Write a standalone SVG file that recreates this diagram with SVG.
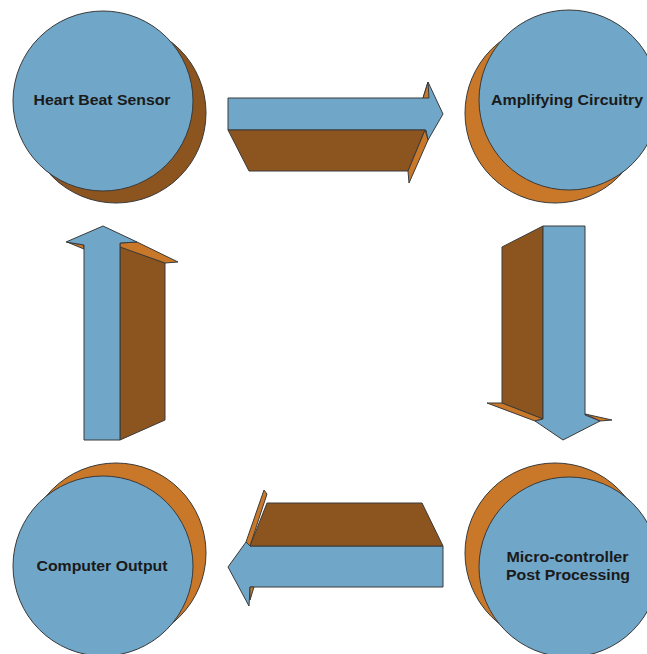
<svg xmlns="http://www.w3.org/2000/svg" width="647" height="654" viewBox="0 0 647 654">
<style>
.b{fill:#70a6c7;stroke:#3a3a3a;stroke-width:1;stroke-linejoin:round}
.d{fill:#8c541e;stroke:#3a3a3a;stroke-width:1;stroke-linejoin:round}
.o{fill:#c87828;stroke:#3a3a3a;stroke-width:1;stroke-linejoin:round}
.t{font-family:"Liberation Sans",Arial,sans-serif;font-weight:bold;font-size:14.5px;fill:#1a1a1a;text-anchor:middle}
</style>
<rect width="647" height="654" fill="#ffffff"/>
<g id="connectors">
  <g id="arrow-right">
    <polygon class="b" points="228,98 423,98 428,82 443,114 428,140 426,130 228,130"/>
    <polygon class="o" points="423,98 428,82 429,98"/>
    <polygon class="d" points="228,130 425,130 408,171 249,171"/>
    <polygon class="o" points="425,130 428,140 409,183 408,171"/>
  </g>
  <g id="arrow-down">
    <polygon class="d" points="502,247 543,226 543,419 502,403"/>
    <polygon class="o" points="487,403 502,403 543,419 535,421"/>
    <polygon class="o" points="585,414 612,420 600,421"/>
    <polygon class="b" points="543,226 585,226 585,415 600,421 563,440 535,421 543,419"/>
  </g>
  <g id="arrow-left">
    <polygon class="b" points="443,546 250,546 246,542 228,567 249,606 250,587 443,587"/>
    <polygon class="o" points="250,587 254,587 250,600"/>
    <polygon class="o" points="264,490 267,494 250,546 246,542"/>
    <polygon class="d" points="267,503 422,503 443,546 250,546"/>
  </g>
  <g id="arrow-up">
    <polygon class="d" points="120,246 165,263 165,420 120,440"/>
    <polygon class="o" points="120,243 137,242 178,262 165,263 120,247"/>
    <polygon class="o" points="67,242 84,245 84,249"/>
    <polygon class="b" points="84,440 84,245 66,242 103,226 137,242 120,243 120,440"/>
  </g>
</g>
<g id="heart-beat-sensor">
  <circle class="d" cx="116" cy="113" r="90"/>
  <circle class="b" cx="103" cy="101" r="90"/>
  <text class="t" x="102" y="105" textLength="137" lengthAdjust="spacingAndGlyphs">Heart Beat Sensor</text>
</g>
<g id="amplifying-circuitry">
  <circle class="o" cx="555" cy="113" r="90"/>
  <circle class="b" cx="569" cy="100" r="90"/>
  <text class="t" x="567" y="105" textLength="152" lengthAdjust="spacingAndGlyphs">Amplifying Circuitry</text>
</g>
<g id="micro-controller">
  <circle class="o" cx="555" cy="553" r="90"/>
  <circle class="b" cx="569" cy="567" r="90"/>
  <text class="t" x="567.5" y="562" textLength="122" lengthAdjust="spacingAndGlyphs">Micro-controller</text>
  <text class="t" x="568" y="580" textLength="124" lengthAdjust="spacingAndGlyphs">Post Processing</text>
</g>
<g id="computer-output">
  <circle class="o" cx="116" cy="553" r="90"/>
  <circle class="b" cx="103" cy="566" r="90"/>
  <text class="t" x="102" y="571" textLength="131" lengthAdjust="spacingAndGlyphs">Computer Output</text>
</g>
</svg>
